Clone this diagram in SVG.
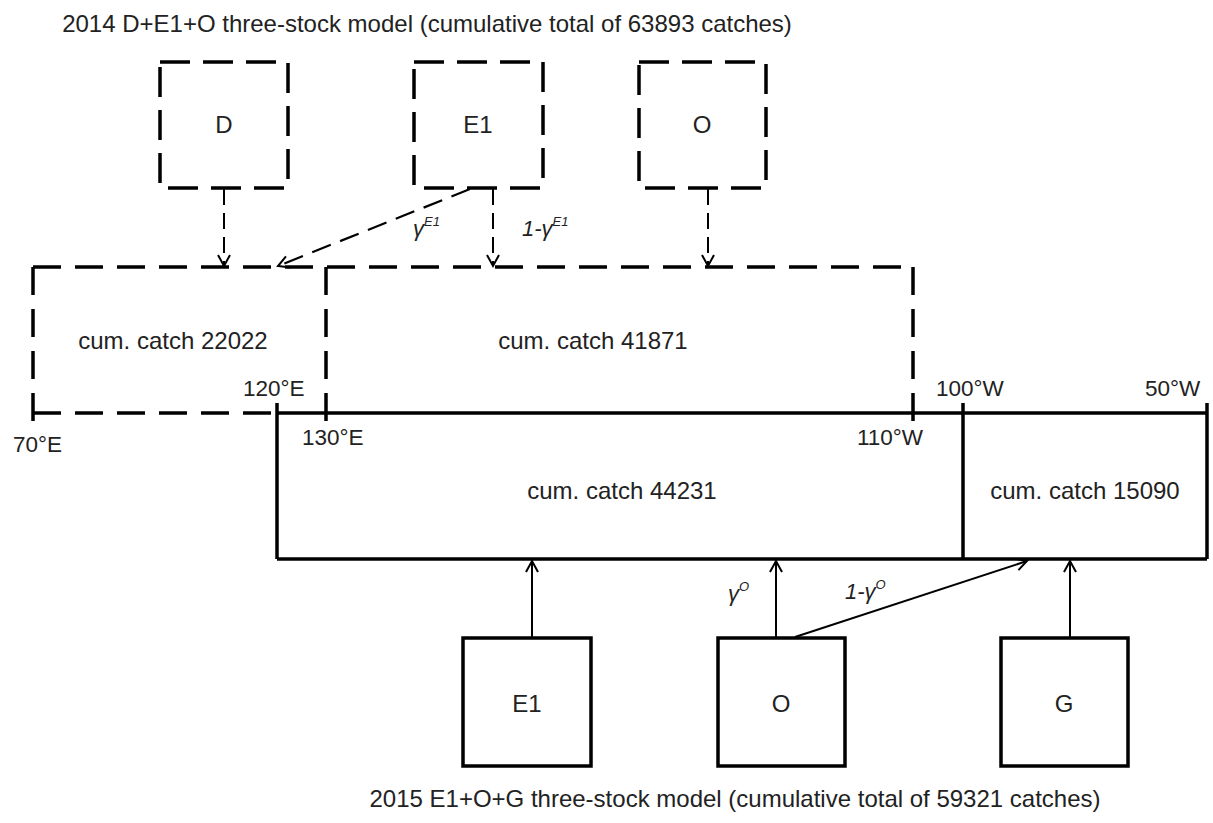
<svg xmlns="http://www.w3.org/2000/svg" width="1213" height="823" viewBox="0 0 1213 823">
<defs>
<marker id="arr" markerUnits="userSpaceOnUse" markerWidth="16" markerHeight="16" refX="12" refY="7" orient="auto">
<path d="M1,1 L12,7 L1,13" fill="none" stroke="#000" stroke-width="2" stroke-dasharray="none"/>
</marker>
<style>
text{font-family:"Liberation Sans",Arial,sans-serif;fill:#222;}
.t{font-size:24px;}
.lbl{font-size:24px;text-anchor:middle;}
.coord{font-size:22.5px;}
.g{font-size:22px;font-style:italic;}
.sup{font-size:13px;font-style:italic;}
.dbox{fill:none;stroke:#000;stroke-width:3.5;stroke-dasharray:30 13;}
.dline{fill:none;stroke:#000;stroke-width:3.5;stroke-dasharray:28 14;}
.sbox{fill:none;stroke:#000;stroke-width:3.5;}
.sline{fill:none;stroke:#000;stroke-width:3.5;}
.darr{fill:none;stroke:#000;stroke-width:2;stroke-dasharray:16 8;marker-end:url(#arr);}
.ddiag{fill:none;stroke:#000;stroke-width:2.2;stroke-dasharray:20 10;marker-end:url(#arr);}
.sarr{fill:none;stroke:#000;stroke-width:2;marker-end:url(#arr);}
</style>
</defs>
<rect width="1213" height="823" fill="#fff"/>

<text class="t" x="427" y="32" text-anchor="middle">2014 D+E1+O three-stock model (cumulative total of 63893 catches)</text>
<text class="t" x="735" y="807" text-anchor="middle">2015 E1+O+G three-stock model (cumulative total of 59321 catches)</text>

<g id="region-2014">
<line class="dline" x1="33" y1="267" x2="913" y2="267"/>
<line class="dline" x1="33" y1="267" x2="33" y2="424"/>
<line class="dline" x1="326" y1="267" x2="326" y2="424"/>
<line class="dline" x1="913" y1="267" x2="913" y2="424"/>
<line class="dline" x1="33" y1="413" x2="277" y2="413"/>
<text class="lbl" x="173" y="349">cum. catch 22022</text>
<text class="lbl" x="593" y="349">cum. catch 41871</text>
</g>

<g id="region-2015">
<line class="sline" x1="277" y1="413" x2="1207" y2="413"/>
<line class="sline" x1="277" y1="403" x2="277" y2="559"/>
<line class="sline" x1="277" y1="559" x2="1207" y2="559"/>
<line class="sline" x1="963" y1="403" x2="963" y2="559"/>
<line class="sline" x1="1207" y1="403" x2="1207" y2="559"/>
<text class="lbl" x="622" y="499">cum. catch 44231</text>
<text class="lbl" x="1085" y="499">cum. catch 15090</text>
</g>

<g id="coords">
<text class="coord" x="13" y="452">70°E</text>
<text class="coord" x="243" y="396">120°E</text>
<text class="coord" x="302" y="445">130°E</text>
<text class="coord" x="857" y="445">110°W</text>
<text class="coord" x="936" y="396">100°W</text>
<text class="coord" x="1145" y="396">50°W</text>
</g>

<g id="node-D-2014">
<rect class="dbox" x="160" y="62" width="128" height="126"/>
<text class="lbl" x="224" y="133">D</text>
</g>
<g id="node-E1-2014">
<rect class="dbox" x="414" y="62" width="129" height="126"/>
<text class="lbl" x="478" y="133">E1</text>
</g>
<g id="node-O-2014">
<rect class="dbox" x="639" y="62" width="127" height="126"/>
<text class="lbl" x="702" y="133">O</text>
</g>

<g id="node-E1-2015">
<rect class="sbox" x="463" y="638" width="128" height="128"/>
<text class="lbl" x="527" y="712">E1</text>
</g>
<g id="node-O-2015">
<rect class="sbox" x="718" y="638" width="127" height="128"/>
<text class="lbl" x="781" y="712">O</text>
</g>
<g id="node-G-2015">
<rect class="sbox" x="1001" y="638" width="127" height="128"/>
<text class="lbl" x="1064" y="712">G</text>
</g>

<g id="connectors">
<line class="darr" x1="224" y1="189" x2="224" y2="266"/>
<line class="ddiag" x1="470" y1="189" x2="278" y2="266"/>
<line class="darr" x1="493" y1="189" x2="493" y2="266"/>
<line class="darr" x1="708" y1="189" x2="708" y2="266"/>
<line class="sarr" x1="532" y1="637" x2="532" y2="561"/>
<line class="sarr" x1="776" y1="637" x2="776" y2="561"/>
<line class="sarr" x1="795" y1="637" x2="1027" y2="561"/>
<line class="sarr" x1="1070" y1="637" x2="1070" y2="561"/>
<text class="g" x="413" y="236">γ<tspan class="sup" dy="-10">E1</tspan></text>
<text class="g" x="522" y="236">1-γ<tspan class="sup" dy="-10">E1</tspan></text>
<text class="g" x="728" y="601">γ<tspan class="sup" dy="-10">O</tspan></text>
<text class="g" x="845" y="599">1-γ<tspan class="sup" dy="-10">O</tspan></text>
</g>
</svg>
